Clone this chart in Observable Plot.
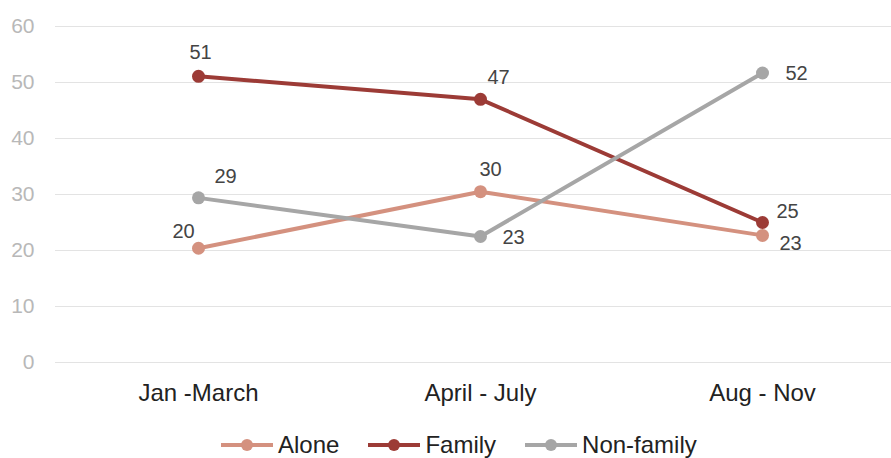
<!DOCTYPE html>
<html>
<head>
<meta charset="utf-8">
<script src="https://cdn.jsdelivr.net/npm/d3@7"></script>
<script src="https://cdn.jsdelivr.net/npm/@observablehq/plot@0.6"></script>
<style>
  html, body { margin: 0; padding: 0; background: #fff; }
  body { width: 891px; height: 458px; overflow: hidden; font-family: "Liberation Sans", Arial, sans-serif; }
  #legend { position: absolute; left: 220px; top: 431px; display: flex; align-items: center; gap: 28px; font-size: 24px; line-height: 28px; color: #222; }
  .item { display: flex; align-items: center; }
  .item svg { margin-right: 4px; }
</style>
</head>
<body>
<div id="chart"></div>
<div id="legend"></div>
<script>
const periods = ["Jan -March", "April - July", "Aug - Nov"];
const seriesNames = ["Alone", "Family", "Non-family"];
const alone = [20.4, 30.5, 22.7];
const family = [51.1, 47.0, 25.0];
const nonFamily = [29.4, 22.5, 51.7];
const labelsAlone = [20, 30, 23];
const labelsFamily = [51, 47, 25];
const labelsNonFamily = [29, 23, 52];
const yTicks = [0, 10, 20, 30, 40, 50, 60];
const colors = ["#d4917f", "#9c3b36", "#a6a6a6"];

// label offsets (styling, not data)
const offsets = {
  "Alone": [[-15, -17], [10, -22], [28, 8]],
  "Family": [[2, -24], [18, -22], [25, -11]],
  "Non-family": [[27, -21], [33, 1], [34, 1]]
};

const valueSets = [alone, family, nonFamily];
const labelSets = [labelsAlone, labelsFamily, labelsNonFamily];
const data = [];
seriesNames.forEach((s, si) => {
  periods.forEach((p, pi) => {
    data.push({series: s, period: p, value: valueSets[si][pi], label: String(labelSets[si][pi]),
      dx: offsets[s][pi][0], dy: offsets[s][pi][1]});
  });
});

const marks = [
  Plot.ruleY(yTicks, {stroke: "#e3e3e3", strokeWidth: 1.2}),
  Plot.axisY({ticks: yTicks, tickSize: 0, tickPadding: 21, fontSize: 21, color: "#b8b8b8", label: null}),
  Plot.axisX({tickSize: 0, tickPadding: 21, fontSize: 24, color: "#222", label: null}),
];
seriesNames.forEach((s, si) => {
  const d = data.filter(r => r.series === s);
  marks.push(Plot.line(d, {x: "period", y: "value", stroke: colors[si], strokeWidth: 4}));
  marks.push(Plot.dot(d, {x: "period", y: "value", fill: colors[si], r: 6.5}));
});
data.forEach(r => {
  marks.push(Plot.text([r], {x: "period", y: "value", text: "label", dx: r.dx, dy: r.dy, fontSize: 20, fill: "#444"}));
});

const chart = Plot.plot({
  width: 891,
  height: 412,
  marginLeft: 55,
  marginRight: 0,
  marginTop: 26,
  marginBottom: 50,
  style: {fontFamily: "Liberation Sans, Arial, sans-serif", background: "#fff"},
  x: {type: "point", domain: periods, range: [198, 762], padding: 0},
  y: {domain: [0, 60]},
  marks
});
document.getElementById("chart").appendChild(chart);

const legend = document.getElementById("legend");
seriesNames.forEach((s, si) => {
  const item = document.createElement("div");
  item.className = "item";
  item.innerHTML = `<svg width="54" height="14"><line x1="1" x2="53" y1="7" y2="7" stroke="${colors[si]}" stroke-width="4"/><circle cx="27" cy="7" r="6" fill="${colors[si]}"/></svg><span>${s}</span>`;
  legend.appendChild(item);
});
</script>
</body>
</html>
